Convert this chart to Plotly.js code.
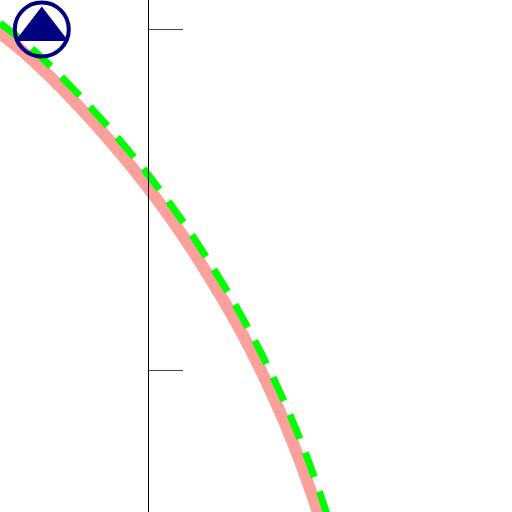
<!DOCTYPE html>
<html>
<head>
<meta charset="utf-8">
<script src="https://cdn.plot.ly/plotly-3.0.1.min.js"></script>
<style>html,body{margin:0;padding:0;background:#fff;}#chart{width:512px;height:512px;}</style>
</head>
<body>
<div id="chart"></div>
<script>
// Curve A (thick salmon)
var curveAx = [-0.45, -0.3683, -0.2871, -0.2025, -0.1207, -0.0389, 0.0369, 0.1069, 0.1712, 0.2384, 0.2968, 0.3493, 0.4019, 0.4456, 0.4866, 0.5129];
var curveAy = [1.0022, 0.9369, 0.8615, 0.7742, 0.6834, 0.5861, 0.4875, 0.3881, 0.2879, 0.1763, 0.0689, -0.0374, -0.155, -0.2645, -0.3791, -0.4597];
// Curve B (green dashed)
var curveBx = [-0.4353, -0.3529, -0.2706, -0.1853, -0.1029, -0.0206, 0.0559, 0.1265, 0.1912, 0.2588, 0.3176, 0.3706, 0.4235, 0.4676, 0.5088, 0.5353];
var curveBy = [1.0206, 0.9547, 0.8782, 0.7903, 0.6988, 0.6009, 0.5015, 0.4012, 0.3003, 0.1879, 0.0797, -0.0274, -0.1459, -0.2562, -0.3715, -0.4524];
// Marker point
var pointX = [-0.3124];
var pointY = [1.0015];
// Y ticks
var yTicks = [0, 1];

var traces = [
  {x: curveAx, y: curveAy, mode: 'lines', line: {color: '#fca09c', width: 12, shape: 'spline', smoothing: 1}, hoverinfo: 'skip'},
  {x: curveBx, y: curveBy, mode: 'lines', line: {color: '#00ff00', width: 7, dash: '26px,15px', shape: 'spline', smoothing: 1}, hoverinfo: 'skip'},
  {x: pointX, y: pointY, mode: 'markers', marker: {symbol: 'circle-open', size: 54, color: '#000080', line: {width: 4, color: '#000080'}}},
  {x: pointX, y: pointY, mode: 'markers', marker: {symbol: 'triangle-up', size: 46, color: '#000080'}}
];

var layout = {
  width: 512, height: 512,
  margin: {l: 0, r: 0, t: 0, b: 0, pad: 0},
  paper_bgcolor: '#fff', plot_bgcolor: '#fff',
  showlegend: false,
  xaxis: {visible: false, range: [-0.4353, 1.0706], domain: [0, 1]},
  yaxis: {
    range: [-0.4176, 1.0882], anchor: 'free', position: 0.2890625,
    showline: true, linecolor: '#000', linewidth: 1,
    ticks: 'inside', ticklen: 34, tickwidth: 1, tickcolor: '#444',
    tickvals: yTicks, showticklabels: false,
    showgrid: false, zeroline: false
  }
};

Plotly.newPlot('chart', traces, layout, {staticPlot: true, displayModeBar: false});
</script>
</body>
</html>
